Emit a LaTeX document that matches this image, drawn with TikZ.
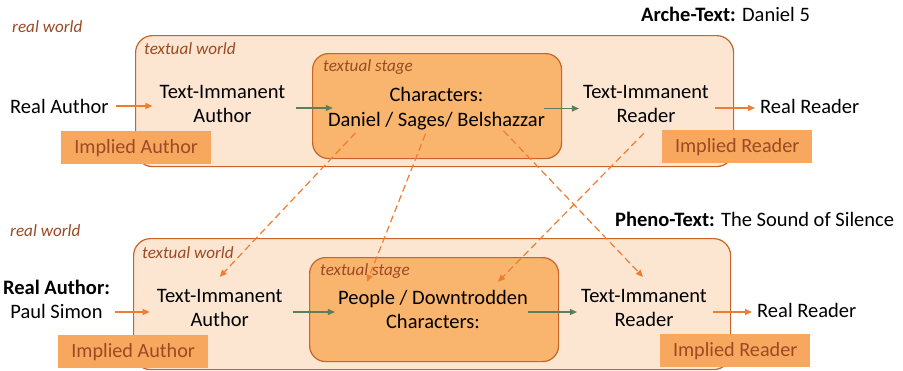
\documentclass[tikz,border=0pt]{standalone}
\usepackage{fontspec}
\setmainfont{Carlito}
\usetikzlibrary{arrows.meta,calc}
\definecolor{worldfill}{HTML}{FCE5D1}
\definecolor{worldline}{HTML}{C8642A}
\definecolor{stagefill}{HTML}{F9B46E}
\definecolor{implfill}{HTML}{F7A85E}
\definecolor{labbrown}{HTML}{9C4A25}
\definecolor{oarr}{HTML}{ED7D31}
\definecolor{garr}{HTML}{5A7F5A}
\begin{document}
\begin{tikzpicture}[x=1pt,y=-1pt,
  worldbox/.style={draw=worldline, line width=1.2pt, fill=worldfill, rounded corners=17pt, anchor=north west, inner sep=0pt},
  stagebox/.style={draw=worldline, line width=1.2pt, fill=stagefill, rounded corners=16pt, anchor=north west, inner sep=0pt},
  implbox/.style={fill=implfill, text=labbrown, font=\fontsize{20.2}{24}\selectfont, minimum width=150pt, minimum height=33pt, inner sep=0pt, anchor=north west},
  maintext/.style={font=\fontsize{20.5}{24.5}\selectfont, align=center, inner sep=0pt},
  lab/.style={font=\fontsize{17.1}{20}\selectfont\itshape, text=labbrown, inner sep=0pt, anchor=base west},
  head/.style={font=\fontsize{20.5}{24}\selectfont, inner sep=0pt, anchor=base west},
  oarrow/.style={draw=oarr, line width=1.2pt, -{Triangle[length=7pt,width=6pt]}},
  garrow/.style={draw=garr, line width=1.2pt, -{Triangle[length=7pt,width=6pt]}},
  darrow/.style={draw=oarr, line width=1.2pt, dash pattern=on 7pt off 4pt, -{Triangle[length=7pt,width=6pt]}},
]
\useasboundingbox[fill=white] (0,0) rectangle (903,370);

% ---------- top diagram ----------
\node[lab] (rw1) at (12,32) {real world};
\node[head] (arche) at (641,21) {\textbf{Arche-Text:} Daniel 5};
\node[worldbox, minimum width=598pt, minimum height=131pt] (tw1) at (135,35) {};
\node[stagebox, minimum width=249pt, minimum height=105pt] (ts1) at (312,53) {};
\node[lab] (twl1) at (144,54) {textual world};
\node[lab] (tsl1) at (323,71) {textual stage};
\node[maintext, anchor=base west] (ra1) at (10,113) {Real Author};
\node[maintext] (tia1) at (222.5,104) {Text-Immanent\\Author};
\node[maintext] (ch1) at (436.5,108.5) {Characters:\\Daniel / Sages/ Belshazzar};
\node[maintext] (tir1) at (646,104) {Text-Immanent\\Reader};
\node[maintext, anchor=base west] (rr1) at (760,113) {Real Reader};
\node[implbox] (ia1) at (61,131) {Implied Author};
\node[implbox] (ir1) at (662,130) {Implied Reader};

\draw[oarrow] ([xshift=7pt]ra1.east) -- ([xshift=-7pt]ra1.east -| tia1.west);
\draw[garrow] ([shift={(10,4)}]tia1.east) -- ([shift={(5,4)}]ch1.west |- tia1.east);
\draw[garrow] ([xshift=-1pt]ch1.east) -- ([xshift=-4pt]ch1.east -| tir1.west);
\draw[oarrow] ([shift={(6,4)}]tir1.east) -- ([shift={(-5,4)}]tir1.east -| rr1.west);

% ---------- bottom diagram ----------
\node[lab] (rw2) at (10,236) {real world};
\node[head] (pheno) at (615,226) {\textbf{Pheno-Text:} The Sound of Silence};
\node[worldbox, minimum width=597pt, minimum height=131pt] (tw2) at (133,238) {};
\node[stagebox, minimum width=249pt, minimum height=104pt] (ts2) at (309,257) {};
\node[lab] (twl2) at (142,258) {textual world};
\node[lab] (tsl2) at (320,275) {textual stage};
\node[maintext] (ra2) at (56.5,299.5) {\textbf{Real Author:}\\Paul Simon};
\node[maintext] (tia2) at (219.7,308) {Text-Immanent\\Author};
\node[maintext] (pe2) at (433,309.5) {People / Downtrodden\\Characters:};
\node[maintext] (tir2) at (644,308) {Text-Immanent\\Reader};
\node[maintext, anchor=base west] (rr2) at (757,317) {Real Reader};
\node[implbox] (ia2) at (58,335) {Implied Author};
\node[implbox] (ir2) at (660,334) {Implied Reader};

\draw[oarrow] ([shift={(5,12.5)}]ra2.east) -- ([shift={(-7,12.5)}]ra2.east -| tia2.west);
\draw[garrow] ([shift={(10,4)}]tia2.east) -- ([shift={(-3,4)}]pe2.west |- tia2.east);
\draw[garrow] ([shift={(0,2.5)}]pe2.east) -- ([shift={(-4,2.5)}]pe2.east -| tir2.west);
\draw[oarrow] ([shift={(6,4)}]tir2.east) -- ([shift={(-5,4)}]tir2.east -| rr2.west);

% ---------- dashed links ----------
\draw[darrow] ([shift={(-81,3)}]ch1.south) -- ([shift={(0,-12)}]tia2.north);
\draw[darrow] ([shift={(-11,4)}]ch1.south) -- ([shift={(-66,-8)}]pe2.north);
\draw[darrow] ([shift={(67,1)}]ch1.south) -- ([shift={(-1,-12)}]tir2.north);
\draw[darrow] ([shift={(-2,10)}]tir1.south) -- ([shift={(65,-8)}]pe2.north);
\end{tikzpicture}
\end{document}
